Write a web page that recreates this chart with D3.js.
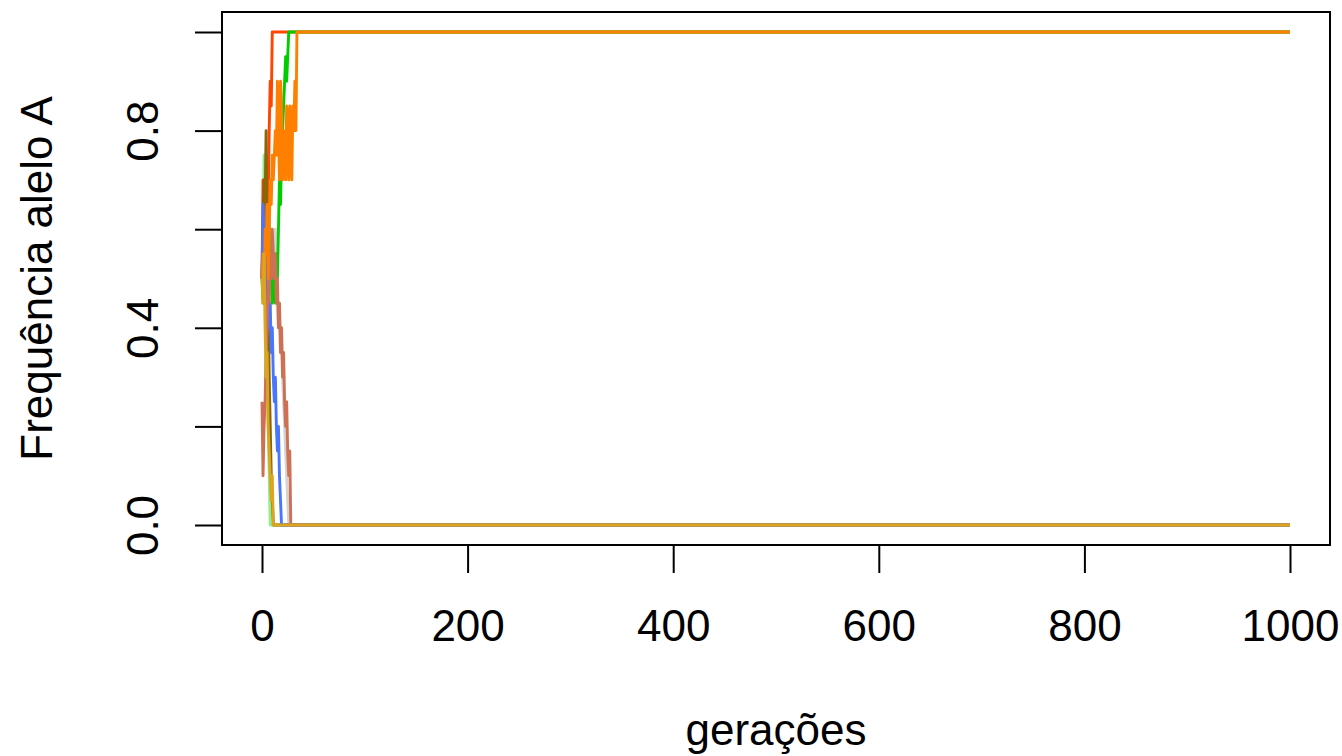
<!DOCTYPE html>
<html>
<head>
<meta charset="utf-8">
<script src="https://cdn.jsdelivr.net/npm/d3@7"></script>
<style>
  html, body { margin: 0; padding: 0; background: #fff; }
  svg { display: block; }
  text { font-family: "Liberation Sans", Arial, Helvetica, sans-serif; fill: #000; }
</style>
</head>
<body>
<svg id="chart" width="1342" height="756"></svg>
<script>
// ---- data (allele A frequency per generation; each run stays at its last value up to generation 1000)
const lastGeneration = 1000;
const xTicks = [0, 200, 400, 600, 800, 1000];
const yTicks = [0, 0.2, 0.4, 0.6, 0.8, 1.0];
const yTickLabels = ["0.0", "", "0.4", "", "0.8", ""];

const runOrangeRed = [0.5,0.7,0.6,0.45,0.55,0.7,0.65,0.8,0.9,0.85,1];
const runGreen     = [0.5,0.45,0.55,0.5,0.6,0.55,0.65,0.6,0.5,0.55,0.45,0.5,0.55,0.45,0.55,0.5,0.6,0.7,0.65,0.75,0.8,0.85,0.9,0.95,0.9,0.95,1];
const runBrown     = [0.5,0.6,0.7,0.65,0.8,0.6,0.45,0.3,0.2,0.1,0.05,0];
const runBlue      = [0.5,0.65,0.6,0.5,0.55,0.45,0.5,0.4,0.45,0.35,0.4,0.3,0.25,0.3,0.2,0.15,0.2,0.1,0.05,0];
const runSalmon    = [0.25,0.1,0.2,0.25,0.35,0.4,0.5,0.45,0.55,0.5,0.6,0.55,0.5,0.55,0.45,0.5,0.4,0.45,0.35,0.4,0.3,0.35,0.25,0.2,0.25,0.15,0.1,0.15,0];
const runGrey      = [0.5,0.55,0.6,0.7,0.75,0.7,0.6,0.65,0.55,0.6,0.5,0.45,0.55,0.6,0.5,0.45,0.4,0.45,0.35,0.4,0.3,0.25,0.2,0.15,0.1,0.05,0];
const runLightGreen= [0.5,0.6,0.75,0.55,0.45,0.3,0.2,0.1,0];
const runOrange    = [0.5,0.55,0.45,0.6,0.55,0.65,0.5,0.6,0.7,0.65,0.75,0.7,0.75,0.8,0.75,0.9,0.8,0.7,0.9,0.85,0.7,0.8,0.75,0.7,0.85,0.8,0.7,0.85,0.75,0.7,0.85,0.8,0.9,0.8,1];
const runGoldenrod = [0.5,0.45,0.55,0.4,0.3,0.35,0.2,0.15,0.1,0.05,0.1,0];

const runs = [
  { values: runGrey,       color: "#D3D3D3" },
  { values: runLightGreen, color: "#90EE90" },
  { values: runOrangeRed,  color: "#FF4500" },
  { values: runGreen,      color: "#00CD00" },
  { values: runBrown,      color: "#8B6508" },
  { values: runBlue,       color: "#4876FF" },
  { values: runSalmon,     color: "#CD7054" },
  { values: runOrange,     color: "#FF7F00" },
  { values: runGoldenrod,  color: "#DAA520" }
];

// ---- layout
const svg = d3.select("#chart");
const box = { left: 222, right: 1330, top: 12, bottom: 545 };
const x = d3.scaleLinear().domain([0, 1000]).range([262, 1290]);
const y = d3.scaleLinear().domain([0, 1]).range([525, 32]);

const line = d3.line().x(d => x(d[0])).y(d => y(d[1]));

const plot = svg.append("g");
runs.forEach(r => {
  const pts = r.values.map((v, i) => [i, v]);
  pts.push([lastGeneration, r.values[r.values.length - 1]]);
  plot.append("path")
    .attr("d", line(pts))
    .attr("fill", "none")
    .attr("stroke", r.color)
    .attr("stroke-width", 2.9)
    .attr("stroke-linejoin", "round");
});

// box
svg.append("rect")
  .attr("x", box.left).attr("y", box.top)
  .attr("width", box.right - box.left).attr("height", box.bottom - box.top)
  .attr("fill", "none").attr("stroke", "#000").attr("stroke-width", 2);

// x axis
const xAxis = d3.axisBottom(x).tickValues(xTicks).tickSize(28).tickPadding(37).tickFormat(d3.format("d"));
const gx = svg.append("g").attr("transform", `translate(0,${box.bottom})`).call(xAxis);
gx.select(".domain").attr("d", `M${x(0)},0H${x(1000)}`).attr("stroke-width", 2);
gx.selectAll(".tick line").attr("stroke-width", 2);
gx.selectAll("text").attr("font-size", 44).attr("font-family", "Liberation Sans, Arial, sans-serif");

// y axis
const yAxis = d3.axisLeft(y).tickValues(yTicks).tickSize(27).tickFormat((d, i) => yTickLabels[i]);
const gy = svg.append("g").attr("transform", `translate(${box.left},0)`).call(yAxis);
gy.select(".domain").attr("d", `M0,${y(0)}V${y(1)}`).attr("stroke-width", 2);
gy.selectAll(".tick line").attr("stroke-width", 2);
gy.selectAll(".tick text")
  .attr("font-size", 44)
  .attr("font-family", "Liberation Sans, Arial, sans-serif")
  .attr("x", null).attr("dy", null)
  .attr("text-anchor", "middle")
  .attr("transform", "translate(-64,0) rotate(-90)");

// titles
svg.append("text")
  .attr("x", x(500) ).attr("y", 745)
  .attr("text-anchor", "middle").attr("font-size", 44)
  .text("gerações");
svg.append("text")
  .attr("transform", `translate(52,${(y(0) + y(1)) / 2}) rotate(-90)`)
  .attr("text-anchor", "middle").attr("font-size", 44)
  .text("Frequência alelo A");
</script>
</body>
</html>
